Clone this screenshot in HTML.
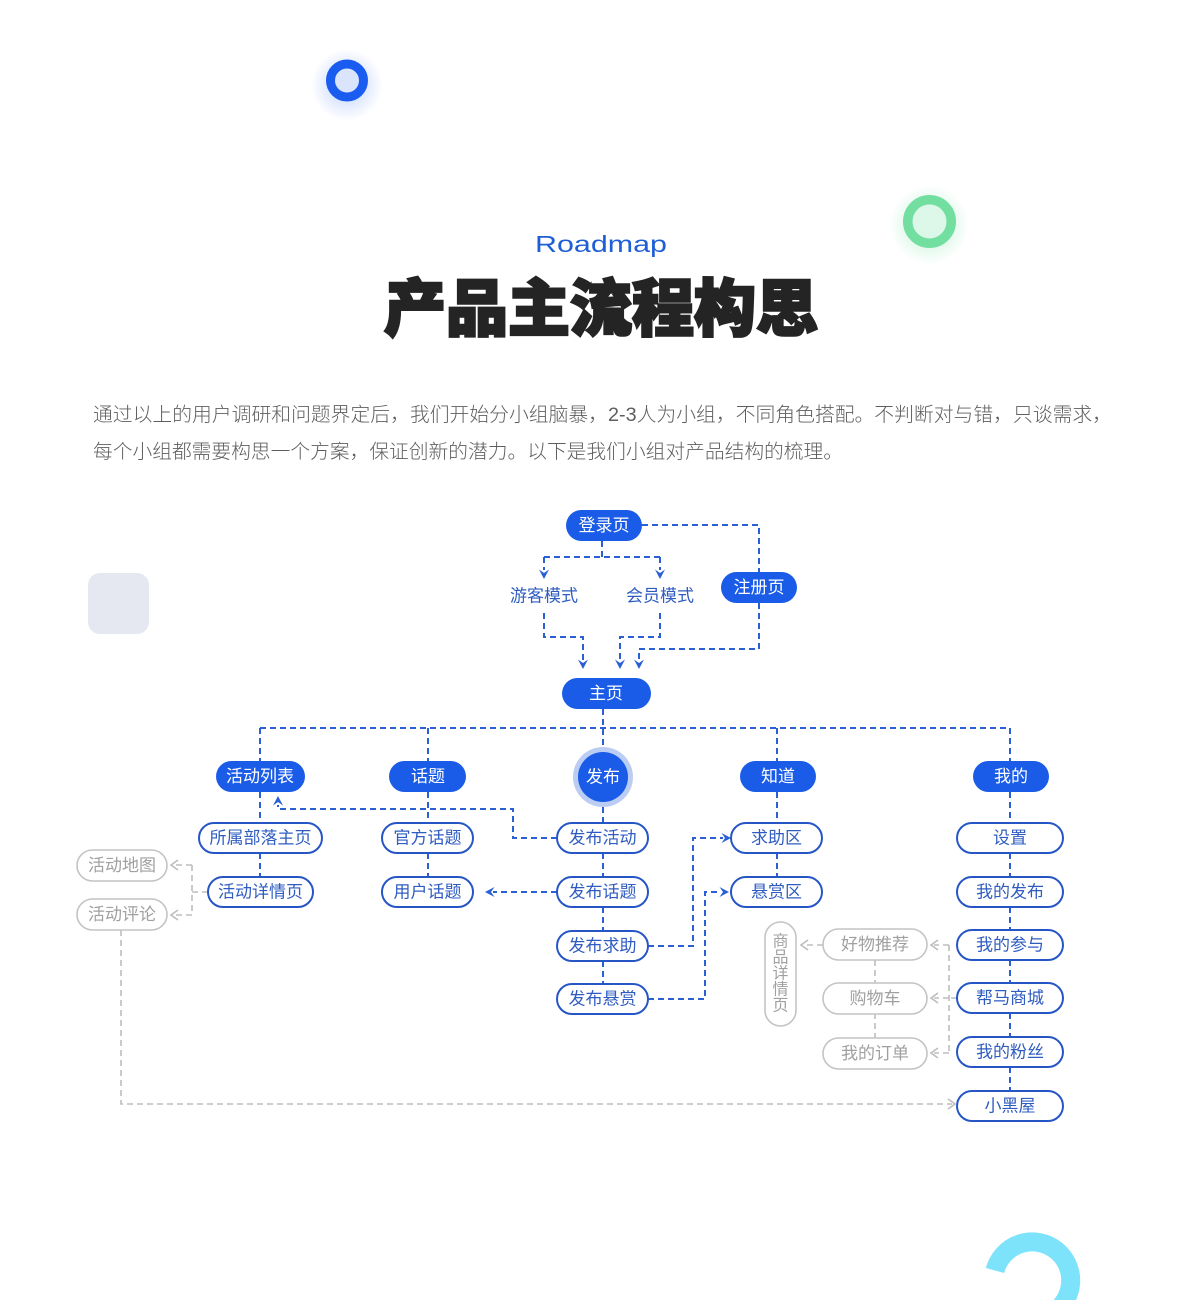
<!DOCTYPE html>
<html><head><meta charset="utf-8">
<style>
html,body{margin:0;padding:0;background:#fff;}
svg{display:block;}
text{font-family:"Liberation Sans","Noto Sans CJK SC",sans-serif;}
.bl{stroke:#2a60d4;stroke-width:2;stroke-dasharray:6 4;fill:none;}
.gl{stroke:#bdbdbd;stroke-width:1.6;stroke-dasharray:6 4;fill:none;}
.fn{fill:#1a5ce8;}
.on{fill:#fff;stroke:#2656c6;stroke-width:2;}
.gn{fill:#fff;stroke:#c4c4c4;stroke-width:1.6;}
.wt{fill:#fff;font-size:17px;}
.bt{fill:#2f5cc0;font-size:17px;}
.gt{fill:#a0a0a0;font-size:17px;}
.ba{fill:#2a60d4;}
.ga{stroke:#bdbdbd;stroke-width:1.6;fill:none;}
</style></head><body>
<svg width="1200" height="1300" viewBox="0 0 1200 1300" xmlns="http://www.w3.org/2000/svg">
<defs>
<radialGradient id="gb"><stop offset="0.45" stop-color="#1a5cf0" stop-opacity="0.16"/><stop offset="1" stop-color="#1a5cf0" stop-opacity="0"/></radialGradient>
<radialGradient id="gg"><stop offset="0.45" stop-color="#5fdc98" stop-opacity="0.22"/><stop offset="1" stop-color="#5fdc98" stop-opacity="0"/></radialGradient>
</defs>

<!-- decorations -->
<circle cx="347" cy="85" r="36" fill="url(#gb)"/>
<circle cx="347" cy="80.5" r="16.5" fill="none" stroke="#1a5cf0" stroke-width="9"/>
<circle cx="929.5" cy="225" r="40" fill="url(#gg)"/>
<circle cx="929.5" cy="221.5" r="21.75" fill="none" stroke="#72dea0" stroke-width="9.5"/>
<rect x="88" y="573" width="61" height="61" rx="12" fill="#e5e8f0"/>
<path d="M995 1270.5 A38.5 38.5 0 1 1 1051 1314" fill="none" stroke="#7de3fb" stroke-width="19"/>

<!-- header -->
<text x="535" y="252" font-size="23" fill="#1f5fd6" textLength="132" lengthAdjust="spacingAndGlyphs">Roadmap</text>
<text x="601" y="310" font-size="62" font-weight="900" fill="#242424" stroke="#242424" stroke-width="2.5" text-anchor="middle" dominant-baseline="central">产品主流程构思</text>

<text x="93" y="415" font-size="19.6" font-weight="300" fill="#5e5e5e" dominant-baseline="central" textLength="1019" lengthAdjust="spacingAndGlyphs">通过以上的用户调研和问题界定后，我们开始分小组脑暴，2-3人为小组，不同角色搭配。不判断对与错，只谈需求，</text>
<text x="93" y="452" font-size="19.6" font-weight="300" fill="#5e5e5e" dominant-baseline="central" textLength="750" lengthAdjust="spacingAndGlyphs">每个小组都需要构思一个方案，保证创新的潜力。以下是我们小组对产品结构的梳理。</text>

<!-- blue connectors -->
<path class="bl" d="M642 525 H759 V572"/>
<path class="bl" d="M602 541 V557 M544 557 H660 M544 557 V570 M660 557 V570"/>
<path class="bl" d="M544 613 V637 H583 V660"/>
<path class="bl" d="M660 613 V637 H620 V660"/>
<path class="bl" d="M759 603 V649 H639 V660"/>
<path class="bl" d="M603 709 V747"/>
<path class="bl" d="M260 728 H1010 M260 728 V761 M428 728 V761 M777 728 V761 M1010 728 V761"/>
<path class="bl" d="M260 792 V823 M260 853 V877"/>
<path class="bl" d="M428 792 V823 M428 853 V877"/>
<path class="bl" d="M603 807 V823 M603 853 V877 M603 907 V931 M603 961 V984"/>
<path class="bl" d="M777 792 V823 M777 853 V877"/>
<path class="bl" d="M1010 792 V823 M1010 853 V877 M1010 907 V930 M1010 960 V983 M1010 1013 V1037 M1010 1067 V1091"/>
<path class="bl" d="M557 838 H513 V809 H278 V805"/>
<path class="bl" d="M557 892 H493"/>
<path class="bl" d="M648 946 H693 V838 H723"/>
<path class="bl" d="M648 999 H705 V892 H721"/>

<!-- blue arrowheads -->
<path class="ba" d="M544 579 l-5 -9.5 l5 3.5 l5 -3.5 Z"/>
<path class="ba" d="M660 579 l-5 -9.5 l5 3.5 l5 -3.5 Z"/>
<path class="ba" d="M583 669 l-5 -9.5 l5 3.5 l5 -3.5 Z"/>
<path class="ba" d="M620 669 l-5 -9.5 l5 3.5 l5 -3.5 Z"/>
<path class="ba" d="M639 669 l-5 -9.5 l5 3.5 l5 -3.5 Z"/>
<path class="ba" d="M278 796 l-5 9.5 l5 -3.5 l5 3.5 Z"/>
<path class="ba" d="M485 892 l9.5 -5 l-3.5 5 l3.5 5 Z"/>
<path class="ba" d="M731 838 l-9.5 -5 l3.5 5 l-3.5 5 Z"/>
<path class="ba" d="M729 892 l-9.5 -5 l3.5 5 l-3.5 5 Z"/>

<!-- gray connectors -->
<path class="gl" d="M208 892 H192 M192 865 V915 M192 865 H174 M192 915 H174"/>
<path class="gl" d="M121 930 V1104 H952"/>
<path class="gl" d="M875 960 V983 M875 1013 V1038"/>
<path class="gl" d="M957 998 H949 M949 945 V1053 M949 945 H934 M949 998 H934 M949 1053 H934"/>
<path class="gl" d="M823 945 H804"/>
<polyline class="ga" points="178,860 171,865 178,870"/>
<polyline class="ga" points="178,910 171,915 178,920"/>
<polyline class="ga" points="948,1099 955,1104 948,1109"/>
<polyline class="ga" points="938,940 931,945 938,950"/>
<polyline class="ga" points="938,993 931,998 938,1003"/>
<polyline class="ga" points="938,1048 931,1053 938,1058"/>
<polyline class="ga" points="808,940 801,945 808,950"/>

<!-- filled nodes -->
<rect class="fn" x="566" y="510" width="76" height="31" rx="15.5"/>
<text class="wt" x="604" y="525.5" text-anchor="middle" dominant-baseline="central">登录页</text>
<rect class="fn" x="721" y="572" width="76" height="31" rx="15.5"/>
<text class="wt" x="759" y="587.5" text-anchor="middle" dominant-baseline="central">注册页</text>
<text class="bt" x="544" y="596" text-anchor="middle" dominant-baseline="central">游客模式</text>
<text class="bt" x="660" y="596" text-anchor="middle" dominant-baseline="central">会员模式</text>
<rect class="fn" x="562" y="678" width="89" height="31" rx="15.5"/>
<text class="wt" x="606" y="693.5" text-anchor="middle" dominant-baseline="central">主页</text>

<rect class="fn" x="216" y="761" width="89" height="31" rx="15.5"/>
<text class="wt" x="260" y="776.5" text-anchor="middle" dominant-baseline="central">活动列表</text>
<rect class="fn" x="389" y="761" width="77" height="31" rx="15.5"/>
<text class="wt" x="428" y="776.5" text-anchor="middle" dominant-baseline="central">话题</text>
<circle cx="603" cy="777" r="30" fill="#bccdf4"/>
<circle cx="603" cy="777" r="25" class="fn"/>
<text class="wt" x="603" y="777" text-anchor="middle" dominant-baseline="central">发布</text>
<rect class="fn" x="740" y="761" width="76" height="31" rx="15.5"/>
<text class="wt" x="778" y="776.5" text-anchor="middle" dominant-baseline="central">知道</text>
<rect class="fn" x="973" y="761" width="76" height="31" rx="15.5"/>
<text class="wt" x="1011" y="776.5" text-anchor="middle" dominant-baseline="central">我的</text>

<!-- outline nodes -->
<rect class="on" x="199" y="823" width="123" height="30" rx="15"/>
<text class="bt" x="260.5" y="838" text-anchor="middle" dominant-baseline="central">所属部落主页</text>
<rect class="on" x="208" y="877" width="105" height="30" rx="15"/>
<text class="bt" x="260.5" y="892" text-anchor="middle" dominant-baseline="central">活动详情页</text>
<rect class="on" x="382" y="823" width="91" height="30" rx="15"/>
<text class="bt" x="427.5" y="838" text-anchor="middle" dominant-baseline="central">官方话题</text>
<rect class="on" x="382" y="877" width="91" height="30" rx="15"/>
<text class="bt" x="427.5" y="892" text-anchor="middle" dominant-baseline="central">用户话题</text>
<rect class="on" x="557" y="823" width="91" height="30" rx="15"/>
<text class="bt" x="602.5" y="838" text-anchor="middle" dominant-baseline="central">发布活动</text>
<rect class="on" x="557" y="877" width="91" height="30" rx="15"/>
<text class="bt" x="602.5" y="892" text-anchor="middle" dominant-baseline="central">发布话题</text>
<rect class="on" x="557" y="931" width="91" height="30" rx="15"/>
<text class="bt" x="602.5" y="946" text-anchor="middle" dominant-baseline="central">发布求助</text>
<rect class="on" x="557" y="984" width="91" height="30" rx="15"/>
<text class="bt" x="602.5" y="999" text-anchor="middle" dominant-baseline="central">发布悬赏</text>
<rect class="on" x="731" y="823" width="91" height="30" rx="15"/>
<text class="bt" x="776.5" y="838" text-anchor="middle" dominant-baseline="central">求助区</text>
<rect class="on" x="731" y="877" width="91" height="30" rx="15"/>
<text class="bt" x="776.5" y="892" text-anchor="middle" dominant-baseline="central">悬赏区</text>
<rect class="on" x="957" y="823" width="106" height="30" rx="15"/>
<text class="bt" x="1010" y="838" text-anchor="middle" dominant-baseline="central">设置</text>
<rect class="on" x="957" y="877" width="106" height="30" rx="15"/>
<text class="bt" x="1010" y="892" text-anchor="middle" dominant-baseline="central">我的发布</text>
<rect class="on" x="957" y="930" width="106" height="30" rx="15"/>
<text class="bt" x="1010" y="945" text-anchor="middle" dominant-baseline="central">我的参与</text>
<rect class="on" x="957" y="983" width="106" height="30" rx="15"/>
<text class="bt" x="1010" y="998" text-anchor="middle" dominant-baseline="central">帮马商城</text>
<rect class="on" x="957" y="1037" width="106" height="30" rx="15"/>
<text class="bt" x="1010" y="1052" text-anchor="middle" dominant-baseline="central">我的粉丝</text>
<rect class="on" x="957" y="1091" width="106" height="30" rx="15"/>
<text class="bt" x="1010" y="1106" text-anchor="middle" dominant-baseline="central">小黑屋</text>

<!-- gray nodes -->
<rect class="gn" x="77" y="850" width="90" height="31" rx="15.5"/>
<text class="gt" x="122" y="865.5" text-anchor="middle" dominant-baseline="central">活动地图</text>
<rect class="gn" x="77" y="899" width="90" height="31" rx="15.5"/>
<text class="gt" x="122" y="914.5" text-anchor="middle" dominant-baseline="central">活动评论</text>
<rect class="gn" x="823" y="929" width="104" height="31" rx="15.5"/>
<text class="gt" x="875" y="944.5" text-anchor="middle" dominant-baseline="central">好物推荐</text>
<rect class="gn" x="823" y="983" width="104" height="31" rx="15.5"/>
<text class="gt" x="875" y="998.5" text-anchor="middle" dominant-baseline="central">购物车</text>
<rect class="gn" x="823" y="1038" width="104" height="31" rx="15.5"/>
<text class="gt" x="875" y="1053.5" text-anchor="middle" dominant-baseline="central">我的订单</text>
<rect class="gn" x="765" y="922" width="31" height="104" rx="15.5"/>
<text class="gt" x="780.5" y="942" style="font-size:16px" text-anchor="middle" dominant-baseline="central">商</text>
<text class="gt" x="780.5" y="958" style="font-size:16px" text-anchor="middle" dominant-baseline="central">品</text>
<text class="gt" x="780.5" y="974" style="font-size:16px" text-anchor="middle" dominant-baseline="central">详</text>
<text class="gt" x="780.5" y="990" style="font-size:16px" text-anchor="middle" dominant-baseline="central">情</text>
<text class="gt" x="780.5" y="1006" style="font-size:16px" text-anchor="middle" dominant-baseline="central">页</text>
</svg>
</body></html>
